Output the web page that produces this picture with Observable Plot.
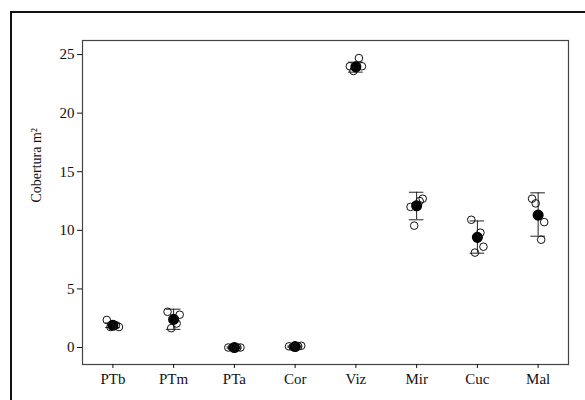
<!DOCTYPE html>
<html>
<head>
<meta charset="utf-8">
<script src="https://cdn.jsdelivr.net/npm/d3@7"></script>
<script src="https://cdn.jsdelivr.net/npm/@observablehq/plot@0.6"></script>
<style>
  html, body { margin: 0; padding: 0; background: #fff; }
  #wrap { position: relative; width: 585px; height: 400px; overflow: hidden; }
  #border { position: absolute; left: 10px; top: 11px; width: 640px; height: 460px; border: 2px solid #111; box-sizing: border-box; pointer-events: none; }
  #chart svg { display: block; }
</style>
</head>
<body>
<div id="wrap"><div id="chart"></div><div id="border"></div></div>
<script>
const categories = ["PTb", "PTm", "PTa", "Cor", "Viz", "Mir", "Cuc", "Mal"];
// individual replicate values (open circles)
const PTb = [2.35, 1.75, 1.9, 1.75];
const PTm = [3.05, 1.65, 2.05, 2.8];
const PTa = [0, 0, 0, 0];
const Cor = [0.1, 0.05, 0.1, 0.15];
const Viz = [24.0, 23.6, 24.7, 24.0];
const Mir = [12.0, 10.4, 12.5, 12.7];
const Cuc = [10.9, 8.1, 9.8, 8.6];
const Mal = [12.7, 12.3, 9.2, 10.7];
// means and error-bar limits
const means = [1.9, 2.4, 0, 0.08, 23.95, 12.1, 9.4, 11.3];
const lows  = [1.7, 1.55, -0.05, 0.03, 23.5, 10.9, 8.05, 9.5];
const highs = [2.1, 3.27, 0.05, 0.13, 24.35, 13.25, 10.8, 13.2];
const yTicks = [0, 5, 10, 15, 20, 25];

const groups = [PTb, PTm, PTa, Cor, Viz, Mir, Cuc, Mal];
const jitter = [-0.1, -0.04, 0.05, 0.1];
const points = groups.flatMap((vals, i) => vals.map((v, j) => ({ i, j, v })));
const summary = categories.map((c, i) => ({ i, m: means[i], lo: lows[i], hi: highs[i] }));

const chart = Plot.plot({
  width: 585,
  height: 400,
  marginLeft: 82,
  marginRight: 17,
  marginTop: 40,
  marginBottom: 36,
  style: { fontFamily: "'Liberation Serif', 'Times New Roman', serif", fontSize: "15px", color: "#111", background: "#fff" },
  x: { domain: [-0.5, 7.5] },
  y: { domain: [-1.45, 26.2] },
  marks: [
    Plot.frame({ stroke: "#444", strokeWidth: 1.2 }),
    Plot.axisX({ ticks: d3.range(categories.length), tickFormat: i => categories[i], tickSize: 4, tickPadding: 5, label: null, fontSize: 15 }),
    Plot.axisY({ ticks: yTicks, tickSize: 5, tickPadding: 3, label: null, fontSize: 15 }),
    Plot.text(["Cobertura m²"], { frameAnchor: "left", text: d => d, rotate: -90, dx: -46, fontSize: 14, fill: "#111" }),
    Plot.ruleX(summary, { x: "i", y1: "lo", y2: "hi", stroke: "#222", strokeWidth: 1 }),
    Plot.ruleY(summary, { y: "hi", x1: d => d.i - 0.12, x2: d => d.i + 0.12, stroke: "#222", strokeWidth: 1 }),
    Plot.ruleY(summary, { y: "lo", x1: d => d.i - 0.12, x2: d => d.i + 0.12, stroke: "#222", strokeWidth: 1 }),
    Plot.dot(summary, { x: "i", y: "m", r: 4.8, fill: "#000", stroke: "#000" }),
    Plot.dot(points, { x: d => d.i + jitter[d.j], y: "v", r: 3.8, fill: "none", stroke: "#111", strokeWidth: 1 })
  ]
});
document.getElementById("chart").appendChild(chart);
</script>
</body>
</html>
